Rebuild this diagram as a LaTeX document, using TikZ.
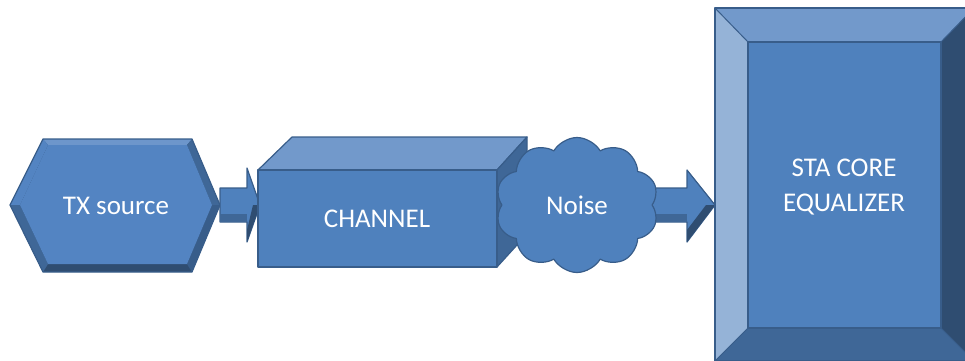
\documentclass[tikz,border=0pt]{standalone}
\usepackage{fontspec}
\setmainfont{Carlito}
\usetikzlibrary{shapes.symbols}
\definecolor{boxblue}{HTML}{4F81BD}
\definecolor{hexblue}{HTML}{5384C2}
\definecolor{edgeblue}{HTML}{385D8A}
\definecolor{lightblue}{HTML}{7299CB}
\definecolor{paleblue}{HTML}{95B3D7}
\definecolor{sideblue}{HTML}{3F6797}
\definecolor{darkblue}{HTML}{2F4D71}

\begin{document}
\begin{tikzpicture}[x=1pt, y=-1pt, line join=round,
    blueface/.style={fill=boxblue, draw=edgeblue, line width=1.2pt},
    txt/.style={text=white, font=\fontsize{27}{35}\selectfont, align=center}]
  \useasboundingbox (0,0) rectangle (965,360);
  \clip (0,0) rectangle (965,360);

  % hexagon
  \fill[darkblue] (10,205) -- (43,139) -- (192,139) -- (220,205) -- (192,272) -- (43,272) -- cycle;
  \fill[hexblue!85!white] (43,139) -- (192,139) -- (187,145) -- (48,145) -- cycle;
  \fill[hexblue] (10,205) -- (43,139) -- (48,145) -- (20,205) -- cycle;
  \fill[sideblue] (10,205) -- (20,205) -- (48,264) -- (43,272) -- cycle;
  \fill[sideblue] (192,139) -- (220,205) -- (212,205) -- (187,145) -- cycle;
  \fill[edgeblue] (220,205) -- (192,272) -- (187,264) -- (212,205) -- cycle;
  \fill[hexblue] (20,205) -- (48,145) -- (187,145) -- (212,205) -- (187,264) -- (48,264) -- cycle;
  \draw[edgeblue, line width=1.2pt] (10,205) -- (43,139) -- (192,139) -- (220,205) -- (192,272) -- (43,272) -- cycle;
  \node[txt] (tx) at (116,206) {TX source};

  % arrow tx -> channel
  \draw[blueface] (220,188) -- (247,188) -- (247,168) -- (260,205) -- (247,242) -- (247,222) -- (220,222) -- cycle;
  \fill[sideblue] (220,214) -- (247,214) -- (247,222) -- (220,222) -- cycle;
  \fill[darkblue] (247,242) -- (260,205) -- (253,205) -- (247,230) -- cycle;

  % channel box
  \draw[blueface, fill=lightblue] (258,170) -- (292,137) -- (527,137) -- (497,170) -- cycle;
  \draw[blueface, fill=sideblue] (497,170) -- (527,137) -- (527,234) -- (497,267) -- cycle;
  \draw[blueface] (258,170) rectangle (497,267);
  \node[txt] (channel) at (377,219) {CHANNEL};

  % arrow noise -> equalizer
  \draw[blueface] (650,188) -- (687,188) -- (687,170) -- (715,205) -- (687,242) -- (687,222) -- (650,222) -- cycle;
  \fill[sideblue] (650,214) -- (687,214) -- (687,222) -- (650,222) -- cycle;
  \fill[darkblue] (687,242) -- (715,205) -- (706,205) -- (687,230) -- cycle;

  % noise cloud
  \node[cloud, cloud puffs=10, cloud puff arc=120, aspect=1.2,
        minimum width=163pt, minimum height=135pt, inner sep=0pt,
        blueface, txt] (noise) at (577,205) {Noise};

  % equalizer
  \fill[paleblue] (715,8) -- (748,42) -- (748,328) -- (715,361) -- cycle;
  \fill[lightblue] (715,8) -- (974,8) -- (941,42) -- (748,42) -- cycle;
  \fill[darkblue] (974,8) -- (974,361) -- (941,328) -- (941,42) -- cycle;
  \fill[sideblue] (715,361) -- (974,361) -- (941,328) -- (748,328) -- cycle;
  \draw[edgeblue, line width=1pt] (715,8) -- (748,42) (974,8) -- (941,42)
    (715,361) -- (748,328) (974,361) -- (941,328);
  \draw[blueface] (748,42) rectangle (941,328);
  \draw[edgeblue, line width=1.2pt] (715,8) rectangle (974,361);
  \node[txt] (sta) at (844,187) {STA CORE\\EQUALIZER};
\end{tikzpicture}
\end{document}
